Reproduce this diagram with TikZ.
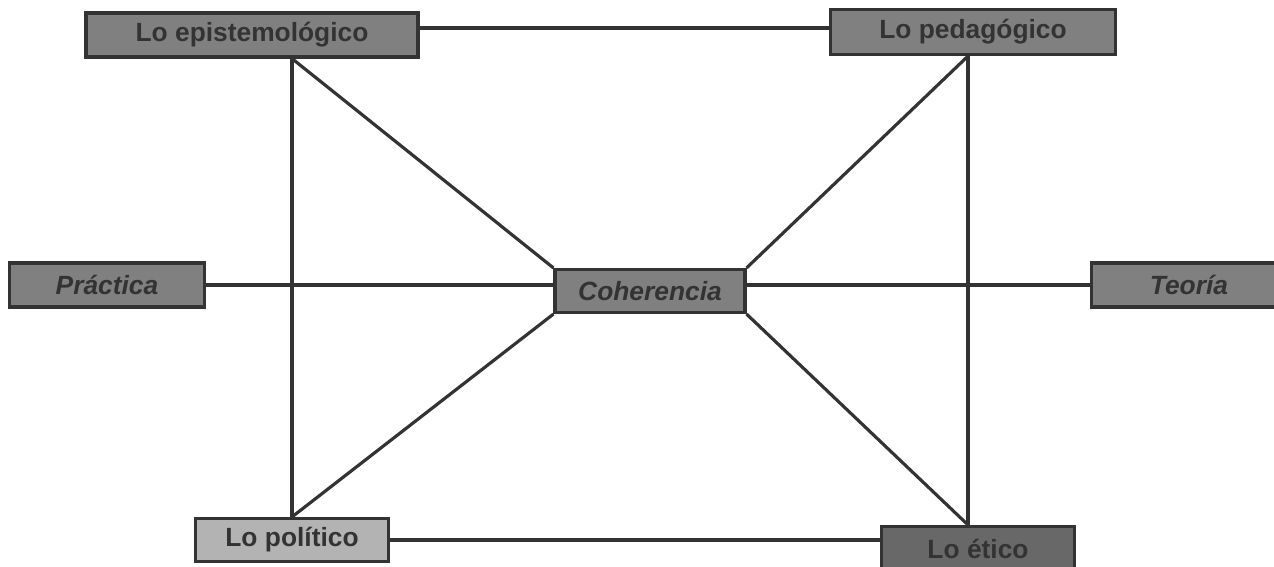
\documentclass[tikz,border=0pt]{standalone}
\usepackage{fontspec}
\setmainfont{Liberation Sans}
\definecolor{boxgray}{HTML}{808080}
\definecolor{lightgray}{HTML}{B3B3B3}
\definecolor{darkgray}{HTML}{686868}
\definecolor{inkgray}{HTML}{333333}
\begin{document}
\begin{tikzpicture}[x=0.02cm, y=-0.02cm,
		box/.style={draw=inkgray, line width=1.8pt, fill=boxgray, text=inkgray,
			font=\fontsize{15}{18}\selectfont\bfseries, inner sep=0pt},
		link/.style={draw=inkgray, line width=1.8pt}]
		\useasboundingbox (0,0) rectangle (1274,567);
		% Draw boxes
		\node [box, minimum width=6.64cm, minimum height=0.88cm] (epi) at (252,35) {Lo epistemológico};
		\node [box, minimum width=5.7cm, minimum height=0.9cm] (ped) at (973,32) {Lo pedagógico};
		\node [box, minimum width=3.9cm, minimum height=0.88cm] (pra) at (107,285) {\itshape Práctica};
		\node [box, minimum width=3.8cm, minimum height=0.86cm] (coh) at (650,291) {\itshape Coherencia};
		\node [box, minimum width=3.9cm, minimum height=0.88cm] (teo) at (1189,285) {\itshape Teoría};
		\node [box, fill=lightgray, minimum width=3.86cm, minimum height=0.86cm] (pol) at (292,540) {Lo político};
		\node [box, fill=darkgray, minimum width=3.86cm, minimum height=0.9cm] (eti) at (978,549) {Lo ético};
		% Draw frame
		\draw [link] ([yshift=0.08cm]ped.west) -- ([yshift=0.08cm]ped.west -| epi.east);
		\draw [link] (pol.north) -- (pol.north |- epi.south);
		\draw [link] ([xshift=-0.1cm]ped.south) -- ([xshift=-0.1cm]ped.south |- eti.north);
		\draw [link] (pol.east) -- (pol.east -| eti.west);
		% Draw links to the centre
		\draw [link] (pol.north |- epi.south) -- (coh.north west);
		\draw [link] ([xshift=-0.1cm]ped.south) -- (coh.north east);
		\draw [link] (coh.south west) -- (pol.north);
		\draw [link] (coh.south east) -- ([xshift=-0.1cm]ped.south |- eti.north);
		\draw [link] (pra.east) -- (pra.east -| coh.west);
		\draw [link] (coh.east |- teo.west) -- (teo.west);
	\end{tikzpicture}
\end{document}
